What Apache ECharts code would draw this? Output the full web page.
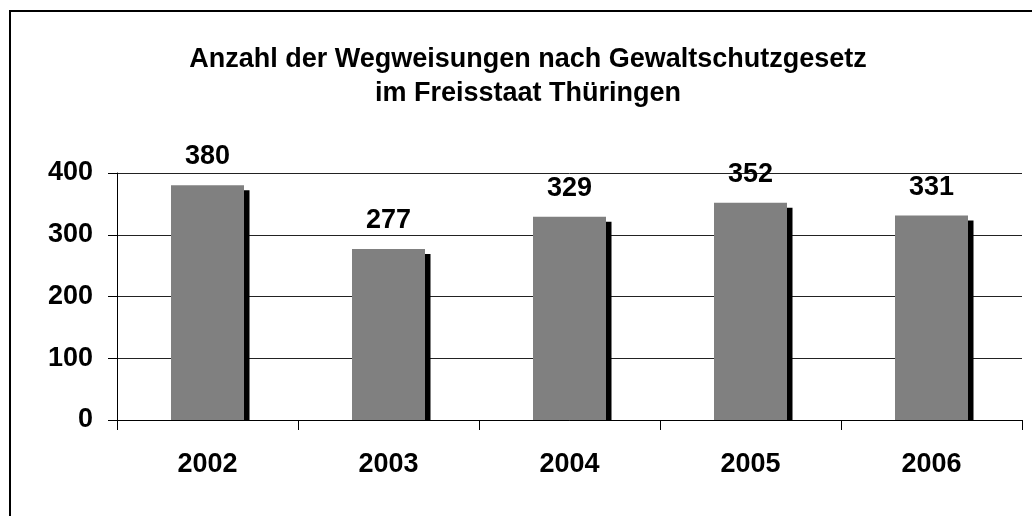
<!DOCTYPE html>
<html>
<head>
<meta charset="utf-8">
<script src="https://cdn.jsdelivr.net/npm/echarts@6/dist/echarts.min.js"></script>
<style>
  html, body { margin: 0; padding: 0; background: #fff; }
  #chart { width: 1032px; height: 516px; }
</style>
</head>
<body>
<div id="chart"></div>
<script>
const years = ["2002", "2003", "2004", "2005", "2006"];
const counts = [380, 277, 329, 352, 331];
const yTicks = [0, 100, 200, 300, 400];

const font = "'Liberation Sans', Arial, sans-serif";
const chart = echarts.init(document.getElementById("chart"));

chart.setOption({
  animation: false,
  backgroundColor: "#fff",
  title: {
    text: "Anzahl der Wegweisungen nach Gewaltschutzgesetz\nim Freisstaat Thüringen",
    left: 523,
    textAlign: "center",
    top: 38,
    textStyle: {
      fontFamily: font,
      fontWeight: "bold",
      fontSize: 27,
      lineHeight: 34,
      color: "#000",
    },
  },
  graphic: [
    {
      type: "rect",
      shape: { x: 10, y: 11, width: 1100, height: 600 },
      style: { fill: null, stroke: "#000", lineWidth: 2 },
      silent: true,
    },
  ],
  grid: { left: 117, right: 10, top: 173, bottom: 96 },
  xAxis: {
    type: "category",
    data: years,
    axisLine: { lineStyle: { color: "#000", width: 1 } },
    axisTick: { show: true, length: 10, lineStyle: { color: "#000" } },
    axisLabel: {
      fontFamily: font,
      fontWeight: "bold",
      fontSize: 27,
      color: "#000",
      margin: 31,
    },
  },
  yAxis: {
    type: "value",
    min: yTicks[0],
    max: yTicks[yTicks.length - 1],
    interval: 100,
    axisLine: { show: true, lineStyle: { color: "#000", width: 1 } },
    axisTick: { show: true, length: 9, lineStyle: { color: "#000" } },
    splitLine: { lineStyle: { color: "#222", width: 1 } },
    axisLabel: {
      fontFamily: font,
      fontWeight: "bold",
      fontSize: 27,
      color: "#000",
      margin: 24,
    },
  },
  series: [
    {
      // dark drop shadow on the right of every bar
      type: "custom",
      data: counts.map((v, i) => [i, v]),
      z: 1,
      renderItem: (params, api) => {
        const top = api.coord([api.value(0), api.value(1)]);
        const base = api.coord([api.value(0), 0]);
        return {
          type: "rect",
          shape: {
            x: top[0] + 36,
            y: top[1] + 5,
            width: 6,
            height: base[1] - top[1] - 5,
          },
          style: { fill: "#000" },
        };
      },
    },
    {
      type: "bar",
      data: counts,
      barWidth: 73,
      z: 2,
      itemStyle: { color: "#808080" },
      label: {
        show: true,
        position: "top",
        distance: 15,
        fontFamily: font,
        fontWeight: "bold",
        fontSize: 27,
        color: "#000",
      },
    },
  ],
});
</script>
</body>
</html>
